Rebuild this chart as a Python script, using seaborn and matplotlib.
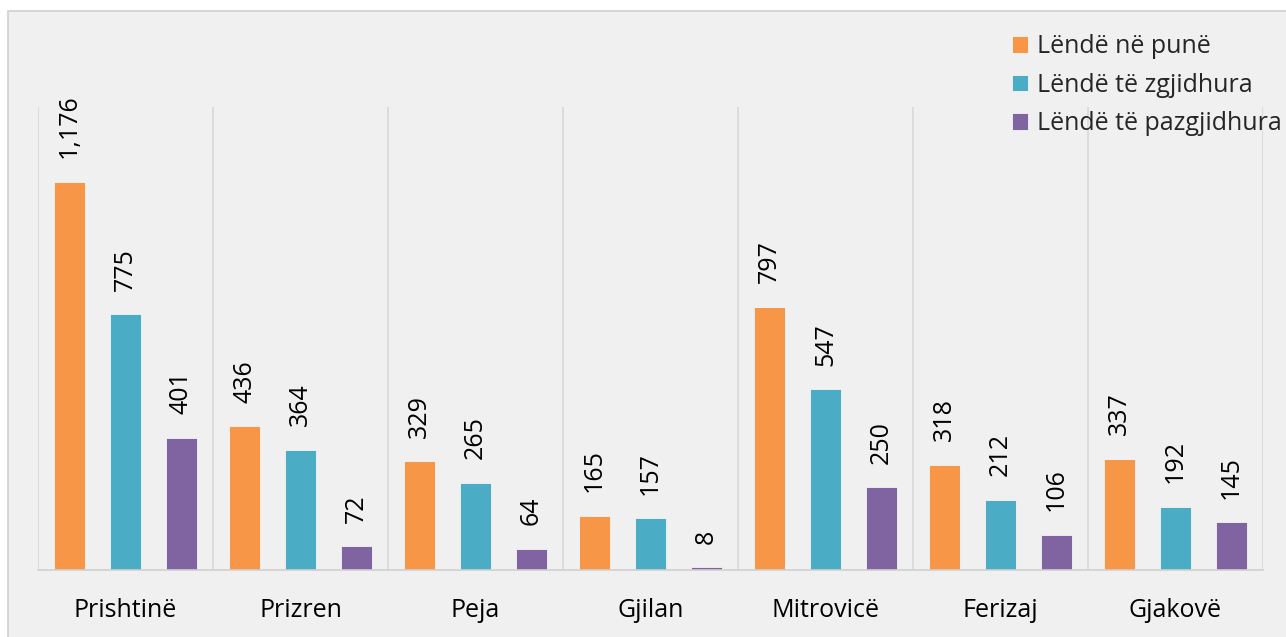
import matplotlib
matplotlib.use("Agg")
import matplotlib.pyplot as plt
import seaborn as sns
import pandas as pd
from matplotlib.patches import Rectangle

cities = ['Prishtinë', 'Prizren', 'Peja', 'Gjilan', 'Mitrovicë', 'Ferizaj', 'Gjakovë']
series = ['Lëndë në punë', 'Lëndë të zgjidhura', 'Lëndë të pazgjidhura']
ne_pune = [1176, 436, 329, 165, 797, 318, 337]
zgjidhura = [775, 364, 265, 157, 547, 212, 192]
pazgjidhura = [401, 72, 64, 8, 250, 106, 145]
colors = ['#F79646', '#4BACC6', '#8064A2']

df = pd.DataFrame({
    'city': cities * 3,
    'series': [series[0]] * 7 + [series[1]] * 7 + [series[2]] * 7,
    'value': ne_pune + zgjidhura + pazgjidhura,
})

sns.set_style('white')
plt.rcParams['font.family'] = ['Open Sans', 'DejaVu Sans']

bg = '#f0f0f0'
fig = plt.figure(figsize=(12.86, 6.37), dpi=100)
fig.patch.set_facecolor('white')
# panel background with thin border
fig.patches.append(Rectangle((8 / 1286, -0.01), 1.02, 1 - 11 / 637 + 0.01,
                             transform=fig.transFigure, facecolor=bg,
                             edgecolor='#d0d0d0', linewidth=1.2, zorder=-5))

ax = fig.add_axes([38 / 1286, 1 - 570 / 637, 1225 / 1286, 463 / 637])
ax.set_facecolor(bg)
ax.set_zorder(2)

sns.barplot(data=df, x='city', y='value', hue='series', palette=colors,
            saturation=1, width=0.96, gap=0.43, ax=ax, edgecolor='#f5f5f5',
            linewidth=0.6, errorbar=None)

for cont in ax.containers:
    ax.bar_label(cont, fmt='{:,.0f}', rotation=90, padding=17,
                 fontsize=18, color='black', clip_on=False)

ax.set_ylim(0, 1403)
ax.set_xlim(-0.5, 6.5)
ax.set_yticks([])
ax.set_xlabel('')
ax.set_ylabel('')
for x in [i - 0.5 for i in range(8)]:
    ax.axvline(x, color='#d9d9d9', linewidth=1.2, zorder=0)
for s in ['top', 'right', 'left']:
    ax.spines[s].set_visible(False)
ax.spines['bottom'].set_color('#d0d0d0')
ax.spines['bottom'].set_linewidth(1.2)
ax.tick_params(axis='x', length=0, pad=20, labelsize=18, labelcolor='black')

ax.legend(loc='upper left', bbox_to_anchor=(1002 / 1286, 1 - 24 / 637),
          bbox_transform=fig.transFigure, frameon=False, fontsize=18,
          handlelength=0.65, handleheight=0.65, handletextpad=0.35,
          labelspacing=0.55, borderaxespad=0)

fig.savefig('out.png', dpi=100, facecolor=fig.get_facecolor())
